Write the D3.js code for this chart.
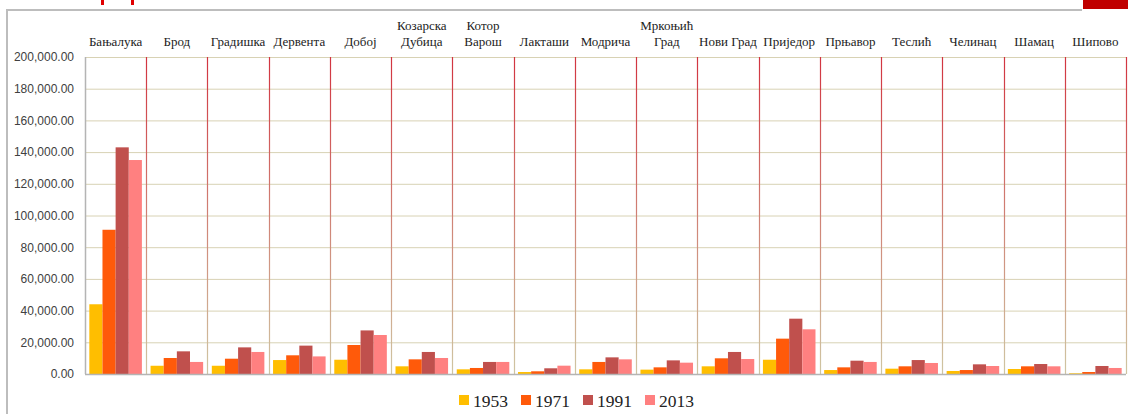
<!DOCTYPE html>
<html>
<head>
<meta charset="utf-8">
<script src="https://cdn.jsdelivr.net/npm/d3@7"></script>
<style>
  body { margin: 0; background: #fff; }
  svg { display: block; }
</style>
</head>
<body>
<div id="chart"></div>
<script>
// chart data
var municipalities = ["Бањалука", "Брод", "Градишка", "Дервента", "Добој", "Козарска Дубица",
  "Котор Варош", "Лакташи", "Модрича", "Мркоњић Град", "Нови Град", "Приједор",
  "Прњавор", "Теслић", "Челинац", "Шамац", "Шипово"];
var years = ["1953", "1971", "1991", "2013"];
var pop1953 = [44000, 5200, 5200, 8800, 9000, 4850, 2950, 1250, 2950, 2750, 4850, 9000, 2500, 3350, 1900, 3150, 450];
var pop1971 = [91000, 10100, 9650, 11800, 18300, 9250, 3800, 1700, 7600, 4200, 9900, 22300, 4200, 4850, 2500, 4850, 1250];
var pop1991 = [143000, 14300, 16800, 17900, 27500, 13900, 7600, 3600, 10500, 8600, 13900, 34900, 8400, 8800, 6100, 6300, 5050];
var pop2013 = [135000, 7600, 13900, 11100, 24600, 10100, 7600, 5250, 9250, 7150, 9450, 28200, 7600, 6950, 5050, 4850, 3800];
var yTicks = [0, 20000, 40000, 60000, 80000, 100000, 120000, 140000, 160000, 180000, 200000];

var series = [pop1953, pop1971, pop1991, pop2013];
var colors = ["#FFBE00", "#FF5A0A", "#C0504D", "#FF8080"];

var svgWidth = 1128;
var svgHeight = 414;
var margin = { top: 57, right: 2, bottom: 40, left: 85 };
var width = svgWidth - margin.left - margin.right;
var height = svgHeight - margin.top - margin.bottom;

var svg = d3.select("#chart")
  .append("svg")
  .attr("width", svgWidth)
  .attr("height", svgHeight);

// slide frame bits
svg.append("path")
  .attr("d", "M7,414 V10 H1082")
  .attr("fill", "none")
  .attr("stroke", "#BDBDBD")
  .attr("stroke-width", 2);
svg.append("rect").attr("x", 1083).attr("y", 0).attr("width", 45).attr("height", 9).attr("fill", "#C00000");
svg.append("rect").attr("x", 101).attr("y", 0).attr("width", 3).attr("height", 5).attr("fill", "#E00000");
svg.append("rect").attr("x", 131).attr("y", 0).attr("width", 3).attr("height", 5).attr("fill", "#E00000");

var chartGroup = svg.append("g")
  .attr("transform", `translate(${margin.left}, ${margin.top})`);

var x0 = d3.scaleBand()
  .domain(municipalities)
  .range([0, width]);

var x1 = d3.scaleBand()
  .domain(years)
  .range([0, x0.bandwidth()])
  .paddingOuter(0.33);

var y = d3.scaleLinear()
  .domain([0, 200000])
  .range([height, 0]);

// gradient for category dividers (red at top fading to tan)
var grad = svg.append("defs").append("linearGradient")
  .attr("id", "divGrad")
  .attr("gradientUnits", "userSpaceOnUse")
  .attr("x1", 0).attr("y1", 0).attr("x2", 0).attr("y2", height);
grad.append("stop").attr("offset", "0%").attr("stop-color", "#D2333F");
grad.append("stop").attr("offset", "45%").attr("stop-color", "#D07A70");
grad.append("stop").attr("offset", "100%").attr("stop-color", "#CFC6A2");

// horizontal grid
chartGroup.append("g")
  .selectAll("line")
  .data(yTicks.slice(1))
  .enter()
  .append("line")
  .attr("x1", 0)
  .attr("x2", width)
  .attr("y1", d => y(d) + 0.5)
  .attr("y2", d => y(d) + 0.5)
  .attr("stroke", "#D8D2B4")
  .attr("stroke-width", 1);

// vertical dividers
chartGroup.append("g")
  .selectAll("line")
  .data(municipalities)
  .enter()
  .append("line")
  .attr("x1", d => Math.round(x0(d) + x0.bandwidth()) + 0.5)
  .attr("x2", d => Math.round(x0(d) + x0.bandwidth()) + 0.5)
  .attr("y1", 0)
  .attr("y2", height)
  .attr("stroke", "url(#divGrad)")
  .attr("stroke-width", 1.2);

// bars
var groups = chartGroup.append("g")
  .selectAll("g")
  .data(municipalities)
  .enter()
  .append("g")
  .attr("transform", d => `translate(${x0(d)},0)`);

groups.selectAll("rect")
  .data((d, i) => years.map((yr, j) => ({ year: yr, value: series[j][i], color: colors[j] })))
  .enter()
  .append("rect")
  .attr("x", d => x1(d.year))
  .attr("width", x1.bandwidth())
  .attr("y", d => y(d.value))
  .attr("height", d => height - y(d.value))
  .attr("fill", d => d.color);

// axes lines
chartGroup.append("line")
  .attr("x1", 0).attr("x2", width)
  .attr("y1", height + 0.5).attr("y2", height + 0.5)
  .attr("stroke", "#B4B4B4").attr("stroke-width", 1.5);
chartGroup.append("line")
  .attr("x1", 0.5).attr("x2", 0.5)
  .attr("y1", 0).attr("y2", height)
  .attr("stroke", "#B4B4B4").attr("stroke-width", 1.5);

// y axis labels
var leftAxis = d3.axisLeft(y)
  .tickValues(yTicks)
  .tickSize(0)
  .tickPadding(11)
  .tickFormat(d3.format(",.2f"));

var yAxisG = chartGroup.append("g").call(leftAxis);
yAxisG.select(".domain").remove();
yAxisG.selectAll("text")
  .attr("font-family", "'Liberation Sans', Arial, sans-serif")
  .attr("font-size", "12px")
  .attr("fill", "#404040");

// category labels (wrap two-word names)
var catLabels = chartGroup.append("g")
  .selectAll("text")
  .data(municipalities)
  .enter()
  .append("text")
  .attr("x", d => x0(d) + x0.bandwidth() / 2)
  .attr("text-anchor", "middle")
  .attr("font-family", "'Liberation Serif', 'DejaVu Serif', serif")
  .attr("font-size", "13px")
  .attr("fill", "#222");

catLabels.each(function(d) {
  var words = d.split(" ");
  var el = d3.select(this);
  if (words.length === 2 && d !== "Нови Град") {
    el.append("tspan").attr("x", x0(d) + x0.bandwidth() / 2).attr("y", -27).text(words[0]);
    el.append("tspan").attr("x", x0(d) + x0.bandwidth() / 2).attr("y", -11).text(words[1]);
  } else {
    el.append("tspan").attr("x", x0(d) + x0.bandwidth() / 2).attr("y", -11).text(d);
  }
});

// legend
var legend = svg.append("g")
  .attr("transform", "translate(459, 392)");
var legendX = [0, 62, 124, 186];
var items = legend.selectAll("g")
  .data(years)
  .enter()
  .append("g")
  .attr("transform", (d, i) => `translate(${legendX[i]}, 0)`);
items.append("rect")
  .attr("x", 0).attr("y", 3)
  .attr("width", 10).attr("height", 10)
  .attr("fill", (d, i) => colors[i]);
items.append("text")
  .attr("x", 14).attr("y", 15)
  .attr("font-family", "'Liberation Serif', 'DejaVu Serif', serif")
  .attr("font-size", "17.5px")
  .attr("fill", "#222")
  .text(d => d);
</script>
</body>
</html>
